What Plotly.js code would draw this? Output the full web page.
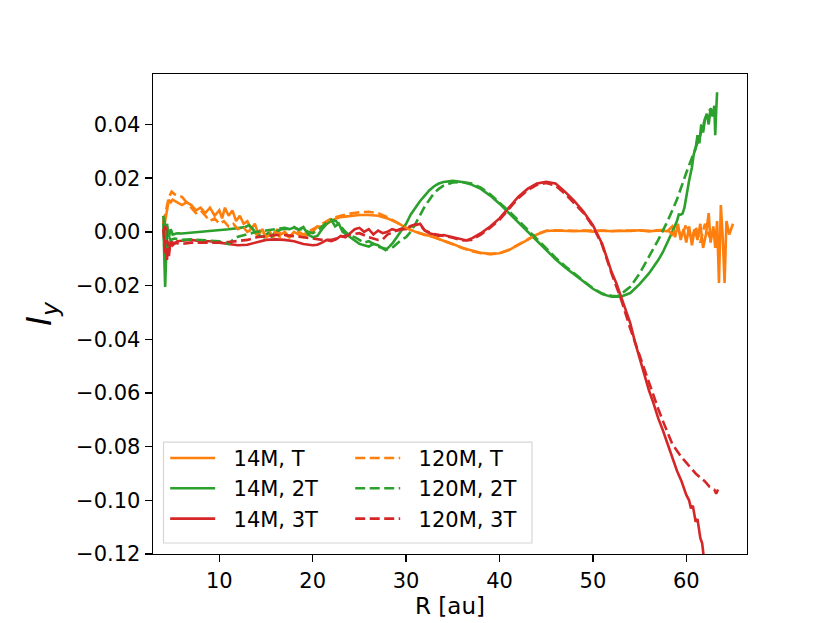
<!DOCTYPE html>
<html>
<head>
<meta charset="utf-8">
<script src="https://cdn.plot.ly/plotly-3.0.1.min.js"></script>
<style>
  html, body { margin: 0; padding: 0; background: #fff; }
  #chart { width: 830px; height: 623px; }
</style>
</head>
<body>
<div id="chart"></div>
<script>
// R [au] and I_y, one pair of arrays per run
var x_14M_T = [4.0, 4.2, 4.4, 4.6, 4.8, 5.0, 5.5, 6.0, 6.5, 7.0, 7.5, 8.0, 8.5, 9.0, 9.5, 10.0, 10.3, 10.6, 11.0, 11.4, 11.8, 12.2, 12.6, 13.0, 13.4, 13.8, 14.2, 14.6, 15.0, 15.4, 15.8, 16.2, 16.6, 17.0, 17.5, 18.0, 18.5, 19.0, 19.5, 20.0, 20.5, 21.0, 21.5, 22.0, 22.5, 23.0, 24.0, 25.0, 26.0, 27.0, 28.0, 29.0, 30.0, 31.0, 32.0, 33.0, 34.0, 35.0, 36.0, 37.0, 38.0, 39.0, 40.0, 41.0, 42.0, 43.0, 44.0, 45.0, 46.0, 47.0, 48.0, 49.0, 50.0, 51.0, 52.0, 53.0, 54.0, 55.0, 56.0, 57.0, 58.0, 58.5, 58.8, 59.1, 59.4, 59.7, 60.0, 60.3, 60.6, 60.9, 61.2, 61.5, 61.8, 62.1, 62.4, 62.6, 62.9, 63.1, 63.3, 63.5, 63.7, 63.9, 64.1, 64.3, 64.6, 65.0];
var y_14M_T = [0.000, 0.004, 0.009, 0.012, 0.011, 0.012, 0.011, 0.010, 0.011, 0.010, 0.008, 0.009, 0.007, 0.009, 0.006, 0.008, 0.005, 0.009, 0.006, 0.008, 0.004, 0.006, 0.003, 0.004, 0.001, 0.003, -0.001, 0.001, -0.002, 0.000, -0.002, 0.001, -0.001, 0.000, -0.002, 0.000, -0.001, -0.002, -0.001, 0.000, 0.002, 0.002, 0.003, 0.004, 0.005, 0.0055, 0.006, 0.0063, 0.0063, 0.006, 0.005, 0.0035, 0.0015, 0.000, -0.001, -0.002, -0.0033, -0.0045, -0.006, -0.007, -0.0078, -0.0082, -0.008, -0.0068, -0.005, -0.003, -0.001, 0.0003, 0.0005, 0.0003, 0.0002, 0.0004, 0.0001, 0.0005, 0.0002, 0.0004, 0.0003, 0.0006, 0.0002, 0.0005, 0.0003, 0.002, -0.002, 0.003, -0.003, 0.001, -0.004, 0.002, -0.005, 0.001, -0.003, 0.003, -0.006, -0.001, 0.007, -0.004, 0.002, -0.006, 0.004, -0.019, 0.010, -0.002, -0.019, 0.004, -0.001, 0.003];

var x_120M_T = [4.0, 4.3, 4.6, 4.9, 5.2, 5.6, 6.0, 6.5, 7.0, 7.5, 8.0, 8.5, 9.0, 9.5, 10.0, 10.5, 11.0, 11.5, 12.0, 12.5, 13.0, 13.5, 14.0, 14.5, 15.0, 15.5, 16.0, 16.5, 17.0, 17.5, 18.0, 18.5, 19.0, 19.5, 20.0, 20.5, 21.0, 22.0, 23.0, 24.0, 25.0, 26.0, 27.0, 28.0, 29.0, 30.0, 31.0, 32.0, 33.0, 34.0, 35.0, 36.0, 37.0, 38.0, 39.0, 40.0, 41.0, 42.0, 43.0, 44.0, 45.0, 46.0, 48.0, 50.0, 52.0, 54.0, 56.0, 58.0, 58.5, 59.0, 59.5, 60.0, 60.5, 61.0, 61.5, 62.0, 62.5, 63.0];
var y_120M_T = [0.003, 0.008, 0.013, 0.015, 0.014, 0.0135, 0.013, 0.011, 0.009, 0.007, 0.008, 0.006, 0.004, 0.005, 0.003, 0.004, 0.002, 0.003, 0.001, 0.002, 0.000, 0.001, -0.001, 0.001, -0.002, -0.001, 0.000, -0.002, -0.001, -0.002, -0.001, 0.000, -0.001, 0.000, 0.001, 0.002, 0.003, 0.005, 0.006, 0.0068, 0.0073, 0.0075, 0.007, 0.0055, 0.0035, 0.0015, 0.000, -0.0012, -0.002, -0.0033, -0.0045, -0.006, -0.0072, -0.008, -0.0083, -0.008, -0.0067, -0.0048, -0.0028, -0.0008, 0.0004, 0.0006, 0.0004, 0.0005, 0.0003, 0.0005, 0.0004, 0.0008, -0.001, 0.002, -0.002, 0.003, -0.003, 0.002, -0.004, 0.003, -0.002, 0.001];

var x_14M_2T = [4.0, 4.1, 4.2, 4.3, 4.4, 4.6, 4.8, 5.0, 5.5, 6.0, 7.0, 8.0, 9.0, 10.0, 11.0, 12.0, 12.8, 13.2, 13.6, 14.0, 14.4, 14.8, 15.2, 15.6, 16.0, 16.5, 17.0, 17.5, 18.0, 18.5, 19.0, 19.5, 20.0, 20.5, 21.0, 21.5, 22.0, 22.4, 22.8, 23.2, 23.6, 24.0, 24.5, 25.0, 25.5, 26.0, 26.5, 27.0, 27.5, 27.8, 28.2, 28.6, 29.0, 29.5, 30.0, 30.5, 31.0, 31.5, 32.0, 32.5, 33.0, 33.5, 34.0, 35.0, 36.0, 37.0, 38.0, 39.0, 40.0, 41.0, 42.0, 43.0, 44.0, 45.0, 46.0, 47.0, 48.0, 49.0, 50.0, 51.0, 52.0, 53.0, 54.0, 55.0, 56.0, 57.0, 57.5, 58.0, 58.5, 59.0, 59.2, 59.4, 59.6, 59.8, 60.0, 60.3, 60.6, 60.8, 61.0, 61.2, 61.4, 61.6, 61.8, 62.0, 62.2, 62.4, 62.6, 62.8, 63.0, 63.1, 63.2, 63.3];
var y_14M_2T = [0.004, -0.005, -0.0205, -0.010, 0.003, -0.002, 0.001, -0.001, -0.0005, -0.0006, -0.0003, 0.000, 0.0003, 0.0005, 0.0010, 0.0014, 0.0018, 0.0025, 0.001, -0.001, -0.0015, -0.002, -0.0005, -0.0018, 0.000, 0.0008, 0.0012, 0.0010, 0.0016, 0.0008, 0.0018, -0.001, -0.002, -0.0015, 0.001, 0.003, 0.0044, 0.002, 0.003, 0.000, -0.001, -0.002, -0.003, -0.0045, -0.005, -0.0055, -0.0045, -0.005, -0.0062, -0.0068, -0.0055, -0.004, -0.002, 0.0005, 0.003, 0.0065, 0.009, 0.0115, 0.0135, 0.0155, 0.017, 0.018, 0.0186, 0.019, 0.0186, 0.0176, 0.016, 0.0135, 0.0105, 0.007, 0.0035, 0.000, -0.0035, -0.007, -0.0102, -0.0132, -0.016, -0.0185, -0.0212, -0.0232, -0.0242, -0.0242, -0.0228, -0.0195, -0.0155, -0.0105, -0.0075, -0.004, 0.000, 0.004, 0.0065, 0.0064, 0.0068, 0.009, 0.0135, 0.019, 0.024, 0.029, 0.031, 0.036, 0.033, 0.040, 0.037, 0.042, 0.044, 0.040, 0.046, 0.043, 0.047, 0.036, 0.045, 0.052];

var x_120M_2T = [4.0, 4.2, 4.4, 4.6, 4.8, 5.2, 6.0, 7.0, 8.0, 9.0, 10.0, 10.5, 11.0, 11.3, 11.6, 12.0, 13.0, 14.0, 15.0, 16.0, 17.0, 17.5, 18.0, 18.5, 19.0, 19.5, 20.0, 20.5, 21.0, 21.5, 22.0, 22.5, 23.0, 23.5, 24.0, 24.5, 25.0, 25.5, 26.0, 26.5, 27.0, 27.5, 28.0, 28.5, 29.0, 29.5, 30.0, 30.5, 31.0, 31.5, 32.0, 32.5, 33.0, 33.5, 34.0, 35.0, 36.0, 37.0, 38.0, 39.0, 40.0, 41.0, 42.0, 43.0, 44.0, 45.0, 46.0, 47.0, 48.0, 49.0, 50.0, 51.0, 52.0, 52.6, 53.0, 54.0, 55.0, 56.0, 57.0, 58.0, 59.0, 60.0, 61.0, 61.5, 62.0, 62.4, 62.7];
var y_120M_2T = [0.006, 0.000, -0.006, -0.002, -0.003, -0.0025, -0.003, -0.0028, -0.003, -0.0032, -0.0035, -0.0038, -0.0045, -0.0035, -0.0025, -0.0018, -0.001, 0.000, 0.0005, 0.001, 0.0015, 0.001, 0.0018, 0.0008, 0.0012, 0.000, -0.0005, 0.0005, 0.002, 0.0035, 0.0045, 0.004, 0.002, 0.000, -0.0015, -0.002, -0.003, -0.004, -0.0035, -0.0045, -0.0055, -0.006, -0.0065, -0.006, -0.0045, -0.003, -0.002, 0.000, 0.003, 0.0065, 0.0095, 0.012, 0.0145, 0.016, 0.0172, 0.0184, 0.0186, 0.018, 0.0165, 0.014, 0.011, 0.0077, 0.0043, 0.0008, -0.0028, -0.0063, -0.0096, -0.0127, -0.0156, -0.0183, -0.021, -0.023, -0.0238, -0.024, -0.0232, -0.0205, -0.0155, -0.0095, -0.003, 0.004, 0.012, 0.022, 0.031, 0.036, 0.042, 0.045, 0.046];

var x_14M_3T = [4.0, 4.1, 4.2, 4.3, 4.4, 4.5, 4.6, 4.8, 5.0, 5.5, 6.0, 7.0, 8.0, 9.0, 10.0, 11.0, 12.0, 13.0, 14.0, 15.0, 16.0, 17.0, 18.0, 19.0, 20.0, 20.5, 21.0, 21.5, 22.0, 22.5, 23.0, 23.5, 24.0, 24.5, 25.0, 25.5, 26.0, 26.5, 27.0, 27.5, 28.0, 28.5, 29.0, 29.5, 30.0, 30.5, 31.0, 31.5, 32.0, 32.5, 33.0, 33.5, 34.0, 35.0, 36.0, 36.5, 37.0, 38.0, 39.0, 40.0, 41.0, 42.0, 43.0, 44.0, 45.0, 46.0, 47.0, 48.0, 49.0, 50.0, 51.0, 52.0, 52.5, 53.0, 53.5, 54.0, 54.5, 55.0, 55.5, 56.0, 56.5, 57.0, 57.5, 58.0, 58.5, 59.0, 59.5, 60.0, 60.3, 60.5, 60.7, 61.0, 61.2, 61.5, 61.7, 61.9];
var y_14M_3T = [0.003, 0.0055, -0.008, 0.002, -0.0105, -0.004, -0.009, -0.003, -0.005, -0.0035, -0.0033, -0.003, -0.0035, -0.0035, -0.004, -0.0045, -0.005, -0.0048, -0.004, -0.003, -0.0028, -0.003, -0.0035, -0.0045, -0.005, -0.0048, -0.004, -0.003, -0.0035, -0.0028, -0.0015, -0.002, -0.0005, 0.001, 0.0015, 0.000, 0.001, -0.001, 0.0005, -0.0005, 0.000, 0.001, 0.0005, 0.0012, 0.001, 0.002, 0.0025, 0.003, 0.0005, -0.0005, -0.001, -0.0015, -0.0012, -0.002, -0.003, -0.0032, -0.0025, -0.0005, 0.002, 0.005, 0.009, 0.013, 0.016, 0.018, 0.0186, 0.018, 0.015, 0.0115, 0.0075, 0.0025, -0.0045, -0.015, -0.019, -0.024, -0.0285, -0.034, -0.041, -0.047, -0.053, -0.059, -0.064, -0.0695, -0.074, -0.079, -0.084, -0.089, -0.093, -0.098, -0.100, -0.103, -0.102, -0.108, -0.107, -0.114, -0.116, -0.122];

var x_120M_3T = [4.0, 4.2, 4.4, 4.6, 5.0, 6.0, 7.0, 8.0, 9.0, 10.0, 11.0, 12.0, 13.0, 14.0, 15.0, 16.0, 17.0, 18.0, 19.0, 20.0, 21.0, 22.0, 23.0, 24.0, 25.0, 26.0, 27.0, 27.5, 28.0, 29.0, 30.0, 30.5, 31.0, 31.5, 32.0, 33.0, 34.0, 35.0, 36.0, 37.0, 38.0, 39.0, 40.0, 41.0, 42.0, 43.0, 44.0, 45.0, 46.0, 47.0, 48.0, 49.0, 50.0, 51.0, 52.0, 53.0, 54.0, 55.0, 55.5, 56.0, 56.5, 57.0, 57.5, 58.0, 58.5, 59.0, 59.5, 60.0, 60.5, 61.0, 61.5, 62.0, 62.5, 63.0, 63.2, 63.4];
var y_120M_3T = [0.001, -0.007, -0.003, -0.006, -0.004, -0.0045, -0.004, -0.004, -0.0042, -0.004, -0.0038, -0.0035, -0.003, -0.002, -0.0015, -0.0012, -0.0012, -0.0015, -0.002, -0.0025, -0.003, -0.003, -0.002, -0.001, -0.0005, -0.002, -0.003, -0.0028, -0.001, 0.0005, 0.0012, 0.0022, 0.0028, 0.0025, 0.0005, -0.0008, -0.0015, -0.0022, -0.0032, -0.003, -0.001, 0.0015, 0.0045, 0.0085, 0.0125, 0.0155, 0.0175, 0.0182, 0.0172, 0.0143, 0.0108, 0.007, 0.002, -0.005, -0.0155, -0.025, -0.036, -0.046, -0.0515, -0.0565, -0.061, -0.066, -0.0705, -0.075, -0.079, -0.0815, -0.084, -0.086, -0.088, -0.090, -0.0915, -0.093, -0.095, -0.096, -0.0975, -0.096];

var names = ['14M, T', '14M, 2T', '14M, 3T', '120M, T', '120M, 2T', '120M, 3T'];
var colors = ['#ff7f0e', '#2ca02c', '#d62728'];
var xTicks = [10, 20, 30, 40, 50, 60];
var yTicks = [0.04, 0.02, 0.00, -0.02, -0.04, -0.06, -0.08, -0.10, -0.12];

var FONT = 'DejaVu Sans, Liberation Sans, sans-serif';
var DASH = '10px,4.5px';
var PAD = '\u00a0\u00a0';   // widens the gap between legend line and label

function line(x, y, name, color, dashed, legendId, group) {
    return {
        x: x,
        y: y,
        name: PAD + name,
        type: 'scatter',
        mode: 'lines',
        line: {color: color, width: 2.6, dash: dashed ? DASH : 'solid'},
        legend: legendId,
        legendgroup: group
    };
}

var data = [
    line(x_14M_T, y_14M_T, names[0], colors[0], false, 'legend', 'a'),
    line(x_14M_2T, y_14M_2T, names[1], colors[1], false, 'legend', 'b'),
    line(x_14M_3T, y_14M_3T, names[2], colors[2], false, 'legend', 'c'),
    line(x_120M_T, y_120M_T, names[3], colors[0], true, 'legend2', 'd'),
    line(x_120M_2T, y_120M_2T, names[4], colors[1], true, 'legend2', 'e'),
    line(x_120M_3T, y_120M_3T, names[5], colors[2], true, 'legend2', 'f')
];

var legendBase = {
    yanchor: 'top',
    xanchor: 'left',
    y: 0.242,
    bgcolor: 'rgba(0,0,0,0)',
    borderwidth: 0,
    font: {family: FONT, size: 21, color: '#000'},
    itemwidth: 45,
    tracegroupgap: 5,
    traceorder: 'normal'
};

var layout = {
    width: 830,
    height: 623,
    margin: {l: 152.5, r: 83, t: 74, b: 69},
    paper_bgcolor: '#fff',
    plot_bgcolor: '#fff',
    font: {family: FONT, size: 20, color: '#000'},
    showlegend: true,
    legend: Object.assign({}, legendBase, {x: 0.0205}),
    legend2: Object.assign({}, legendBase, {x: 0.332}),
    xaxis: {
        range: [2.9, 66.5],
        tickvals: xTicks,
        ticktext: xTicks.map(String),
        ticks: 'outside',
        ticklen: 7,
        tickwidth: 1.4,
        tickcolor: '#000',
        showline: true,
        linecolor: '#000',
        linewidth: 1.4,
        mirror: true,
        showgrid: false,
        zeroline: false,
        tickfont: {family: FONT, size: 21},
        title: {text: 'R [au]', font: {family: FONT, size: 23}, standoff: 6}
    },
    yaxis: {
        range: [-0.12, 0.0588],
        tickvals: yTicks,
        ticktext: yTicks.map(function (v) { return v.toFixed(2).replace('-', '\u2212'); }),
        ticks: 'outside',
        ticklen: 7,
        tickwidth: 1.4,
        tickcolor: '#000',
        showline: true,
        linecolor: '#000',
        linewidth: 1.4,
        mirror: true,
        showgrid: false,
        zeroline: false,
        tickfont: {family: FONT, size: 21},
        title: {text: '<i>I</i><sub><i>y</i></sub>', font: {family: FONT, size: 34}, standoff: 14}
    },
    shapes: [{
        type: 'rect',
        xref: 'paper',
        yref: 'paper',
        x0: 0.0177, x1: 0.638,
        y0: 0.0229, y1: 0.233,
        line: {color: '#d6d6d6', width: 1.2},
        fillcolor: 'rgba(255,255,255,0.8)',
        layer: 'above'
    }]
};

Plotly.newPlot('chart', data, layout, {staticPlot: true});
</script>
</body>
</html>
